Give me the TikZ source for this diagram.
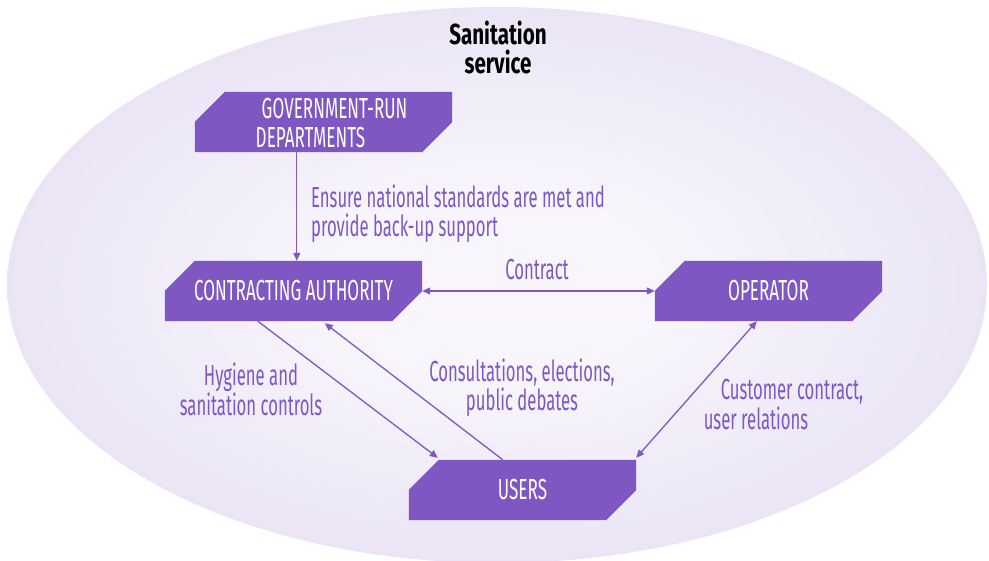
\documentclass[tikz,border=0pt]{standalone}
\usepackage{fontspec}
\setmainfont{Fira Sans}[FakeStretch=0.58]
\newfontfamily\boxfnt{Fira Sans}[FakeStretch=0.59]
\newfontfamily\lblfnt{Fira Sans}[FakeStretch=0.575]
\newfontfamily\titlefnt{Fira Sans}[FakeStretch=0.71]
\usetikzlibrary{arrows.meta,backgrounds}
\definecolor{boxpurple}{HTML}{7E57C2}
\definecolor{lblpurple}{HTML}{7C58C6}
\definecolor{bgin}{HTML}{F8F6FC}
\definecolor{bgout}{HTML}{D6CAEC}
\pgfdeclareradialshading{ellshade}{\pgfpoint{0bp}{0bp}}{color(0bp)=(bgin); color(8bp)=(bgin); color(50bp)=(bgout)}
\newcommand\chamferbox[1]{\fill[boxpurple] ([xshift=30pt]#1.north west) -- (#1.north east) -- ([yshift=30pt]#1.south east) -- ([xshift=-30pt]#1.south east) -- (#1.south west) -- ([yshift=-30pt]#1.north west) -- cycle;}
\tikzset{
  chbox/.style={rectangle, minimum height=60pt, inner sep=0pt, text=white, font=\boxfnt\fontsize{29}{29}\selectfont},
  boxtext/.style={inner sep=0pt, text=white, font=\boxfnt\fontsize{29}{29}\selectfont},
  lbl/.style={inner sep=0pt, text=lblpurple, font=\lblfnt\fontsize{29}{28.5}\selectfont},
  arr/.style={draw=boxpurple, line width=1.3pt, -{Triangle[length=8pt,width=7pt]}},
  arrboth/.style={draw=boxpurple, line width=1.3pt, {Triangle[length=8pt,width=7pt]}-{Triangle[length=8pt,width=7pt]}},
}
\begin{document}
\begin{tikzpicture}[x=1pt,y=-1pt]
\useasboundingbox (0,0) rectangle (989,561);
\begin{scope}[on background layer]
  \shade[shading=ellshade] (497,285) ellipse [x radius=490pt, y radius=278pt];
\end{scope}
% boxes
\node[chbox, minimum width=257pt] (gov) at (323.5,122) {};
\node[boxtext, align=left] (govtxt) at (331.5,123) {\hspace*{6pt}GOVERNMENT-RUN\\DEPARTMENTS};
\node[chbox, minimum width=257pt] (ca) at (293.5,291) {CONTRACTING AUTHORITY};
\node[chbox, minimum width=227pt] (op) at (768.5,291) {OPERATOR};
\node[chbox, minimum width=227pt] (users) at (522.5,490) {USERS};
\begin{scope}[on background layer]
  \chamferbox{gov}
  \chamferbox{ca}
  \chamferbox{op}
  \chamferbox{users}
\end{scope}
% title
\node[inner sep=0pt, align=center, font=\titlefnt\fontsize{29}{29}\selectfont\bfseries] (title) at (498,47.5) {Sanitation\\service};
% labels
\node[lbl, align=left, anchor=west] (l1) at (311,214) {Ensure national standards are met and\\provide back-up support};
\node[lbl] (l2) at (537,270) {Contract};
\node[lbl, align=center] (l3) at (251,389.5) {Hygiene and\\sanitation controls};
\node[lbl, align=center] (l4) at (522,388) {Consultations, elections,\\public debates};
\node[lbl, align=left, font=\lblfnt\fontsize{29}{30}\selectfont] (l5) at (783.5,405) {\hspace*{17pt}Customer contract,\\user relations};
% connectors
\draw[arr] ([xshift=102pt]gov.south west) -- ([xshift=132pt]ca.north west);
\draw[arrboth] (ca.east) -- (op.west);
\draw[arr] ([xshift=93pt]ca.south west) -- ([xshift=29pt,yshift=2pt]users.north west);
\draw[arr] ([xshift=94pt]users.north west) -- ([xshift=160pt,yshift=-2pt]ca.south west);
\draw[arrboth] ([xshift=102pt]op.south west) -- ([yshift=2pt]users.north east);
\end{tikzpicture}
\end{document}
